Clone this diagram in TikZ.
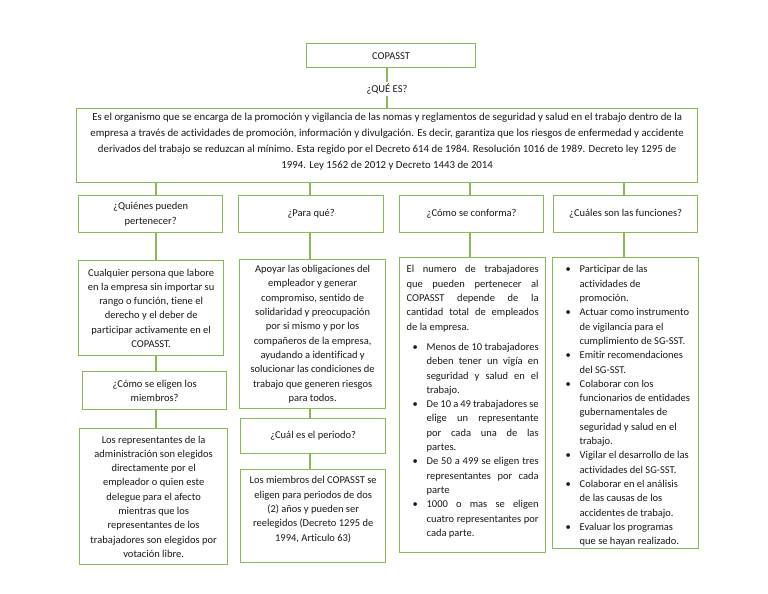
\documentclass[tikz,border=0pt]{standalone}
\usepackage{fontspec}
\setmainfont{Carlito}[Ligatures=NoCommon]
\definecolor{grn}{RGB}{137,186,86}
\definecolor{txt}{RGB}{25,25,25}
\newcommand{\fs}{\fontsize{10.5}{14.3}\selectfont}
\newcommand{\itm}[1]{\par\noindent\hangindent=20pt\hangafter=1\makebox[20pt][l]{\hspace{6pt}•}#1\par}
\begin{document}
\begin{tikzpicture}[x=1pt,y=-1pt,
  box/.style={draw=grn, line width=1.3pt, inner xsep=7pt, inner ysep=0pt, anchor=north west, text=txt, font=\fs},
  conn/.style={draw=grn, line width=1.3pt}]
\useasboundingbox[fill=white] (0,0) rectangle (768,594);
% top
\node[box] (top) at (306,43) {\parbox[c][24pt][c]{155pt}{\centering COPASST}};
\node[text=txt, font=\fs, inner sep=2pt] (qe) at (387,89) {¿QUÉ ES?};
\node[box] (big) at (76,108) {\parbox[c][74pt][t]{607pt}{\vspace*{4pt}\centering\fontsize{10.8}{16}\selectfont
Es el organismo que se encarga de la promoción y vigilancia de las nomas y reglamentos de seguridad y salud en el trabajo dentro de la\\
empresa a través de actividades de promoción, información y divulgación. Es decir, garantiza que los riesgos de enfermedad y accidente\\
derivados del trabajo se reduzcan al mínimo. Esta regido por el Decreto 614 de 1984. Resolución 1016 de 1989. Decreto ley 1295 de\\
1994. Ley 1562 de 2012 y Decreto 1443 de 2014}};
% column guides
\coordinate (c1) at (156,0);
\coordinate (c2) at (310,0);
\coordinate (c3) at (470,0);
\coordinate (c4) at (624,0);
% column 1
\node[box] (q1) at (78,195) {\parbox[c][37pt][c]{130pt}{\centering ¿Quiénes pueden\\pertenecer?}};
\node[box] (a1) at (78,260) {\parbox[c][95pt][c]{131pt}{\centering
Cualquier persona que labore\\en la empresa sin importar su\\rango o función, tiene el\\derecho y el deber de\\participar activamente en el\\COPASST.}};
\node[box] (q1b) at (82,371) {\parbox[c][38pt][c]{130pt}{\centering ¿Cómo se eligen los\\miembros?}};
\node[box] (a1b) at (79,428) {\parbox[c][136pt][c]{134pt}{\centering
Los representantes de la\\administración son elegidos\\directamente por el\\empleador o quien este\\delegue para el afecto\\mientras que los\\representantes de los\\trabajadores son elegidos por\\votación libre.}};
% column 2
\node[box] (q2) at (238,195) {\parbox[c][37pt][c]{131pt}{\centering ¿Para qué?}};
\node[box] (a2) at (239,259) {\parbox[c][149pt][c]{132pt}{\centering
Apoyar las obligaciones del\\empleador y generar\\compromiso, sentido de\\solidaridad y preocupación\\por si mismo y por los\\compañeros de la empresa,\\ayudando a identificad y\\solucionar las condiciones de\\trabajo que generen riesgos\\para todos.}};
\node[box] (q2b) at (240,418) {\parbox[c][35pt][c]{131pt}{\centering ¿Cuál es el periodo?}};
\node[box] (a2b) at (240,469) {\parbox[c][93pt][t]{131pt}{\vspace*{7pt}\centering
Los miembros del COPASST se\\eligen para periodos de dos\\(2) años y pueden ser\\reelegidos (Decreto 1295 de\\1994, Articulo 63)}};
% column 3
\node[box] (q3) at (399,195) {\parbox[c][37pt][c]{130pt}{\centering ¿Cómo se conforma?}};
\node[box] (a3) at (399,257) {\parbox[c][295pt][t]{132pt}{\vspace*{8pt}\hyphenpenalty=10000\exhyphenpenalty=10000%
El numero de trabajadores\linebreak que pueden pertenecer al\linebreak COPASST depende de la\linebreak cantidad total de empleados\linebreak de la empresa.\par
\vspace{6pt}%
\itm{Menos de 10 trabajadores\linebreak deben tener un vigía en\linebreak seguridad y salud en el\linebreak trabajo.}%
\itm{De 10 a 49 trabajadores se\linebreak elige un representante\linebreak por cada una de las\linebreak partes.}%
\itm{De 50 a 499 se eligen tres\linebreak representantes por cada\linebreak parte}%
\itm{1000 o mas se eligen\linebreak cuatro representantes por\linebreak cada parte.}}};
% column 4
\node[box] (q4) at (553,195) {\parbox[c][37pt][c]{130pt}{\centering ¿Cuáles son las funciones?}};
\node[box] (a4) at (552,257) {\parbox[c][291pt][t]{132pt}{\vspace*{8pt}\raggedright\hyphenpenalty=10000\exhyphenpenalty=10000
\itm{Participar de las\newline actividades de\newline promoción.}%
\itm{Actuar como instrumento\newline de vigilancia para el\newline cumplimiento de SG-SST.}%
\itm{Emitir recomendaciones\newline del SG-SST.}%
\itm{Colaborar con los\newline funcionarios de entidades\newline gubernamentales de\newline seguridad y salud en el\newline trabajo.}%
\itm{Vigilar el desarrollo de las\newline actividades del SG-SST.}%
\itm{Colaborar en el análisis\newline de las causas de los\newline accidentes de trabajo.}%
\itm{Evaluar los programas\newline que se hayan realizado.}}};
% connectors
\draw[conn] (top.south -| qe.north) -- (qe.north);
\draw[conn] (qe.south) -- (big.north -| qe.south);
\draw[conn] (big.south -| c1) -- (q1.north -| c1);
\draw[conn] (big.south -| c2) -- (q2.north -| c2);
\draw[conn] (big.south -| c3) -- (q3.north -| c3);
\draw[conn] (big.south -| c4) -- (q4.north -| c4);
\draw[conn] (q1.south -| c1) -- (a1.north -| c1);
\draw[conn] (a1.south -| c1) -- (q1b.north -| c1);
\draw[conn] (q1b.south -| c1) -- (a1b.north -| c1);
\draw[conn] (q2.south -| c2) -- (a2.north -| c2);
\draw[conn] (a2.south -| c2) -- (q2b.north -| c2);
\draw[conn] (q2b.south -| c2) -- (a2b.north -| c2);
\draw[conn] (q3.south -| c3) -- (a3.north -| c3);
\draw[conn] (q4.south -| c4) -- (a4.north -| c4);
\end{tikzpicture}
\end{document}
